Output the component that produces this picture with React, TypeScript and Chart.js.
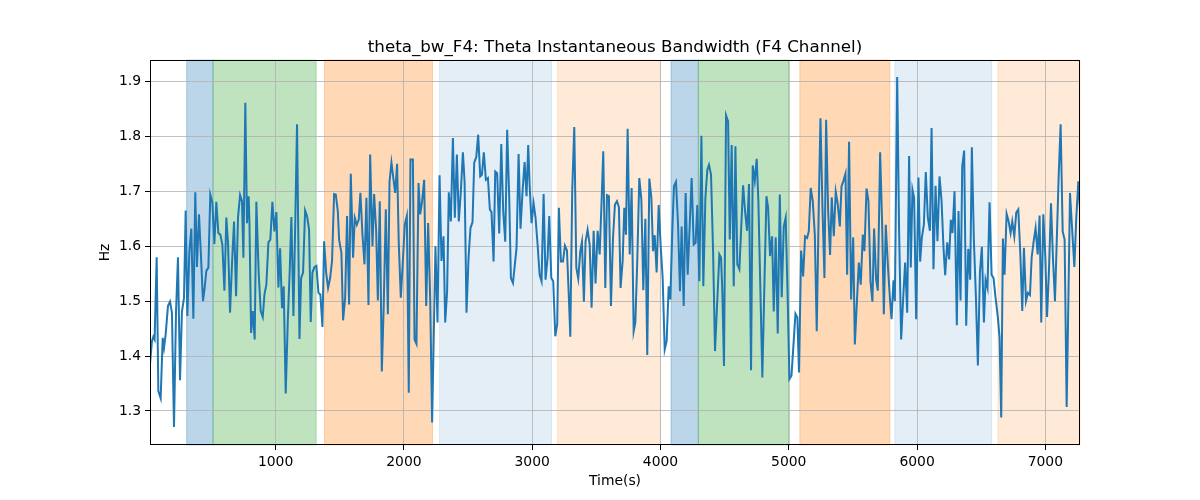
import { Chart, registerables } from "chart.js";
import React, { useEffect, useRef } from "react";

Chart.register(...registerables);

// sample times (s)
const times = [
  21, 36, 47, 57, 73, 86, 104, 120, 130, 143, 161, 177, 192, 208, 224, 239, 255, 270, 286, 299,
  312, 328, 343, 359, 374, 387, 403, 419, 434, 447, 460, 476, 491, 507, 523, 538, 554, 569, 585, 601,
  616, 629, 645, 660, 676, 692, 707, 723, 738, 749,
  764, 777, 790, 796, 809, 822, 837, 850, 868, 884, 900, 913, 928, 944, 959, 975, 991, 1006, 1022, 1035,
  1050, 1063, 1079, 1095, 1110, 1123, 1139, 1154, 1167, 1186, 1199, 1214, 1230, 1245, 1261, 1274, 1287, 1303, 1318, 1334,
  1349, 1365, 1378, 1394, 1409, 1425, 1440, 1456, 1469, 1485,
  1495, 1513, 1526, 1542, 1557, 1573, 1586, 1604, 1617, 1633, 1648, 1661, 1677, 1693, 1708, 1724, 1737, 1755, 1768, 1784,
  1797, 1812, 1828, 1843, 1859, 1875, 1888, 1903, 1919, 1932, 1947, 1960, 1976, 1992, 2007, 2023, 2038, 2051, 2070, 2083,
  2098, 2114, 2127, 2142, 2158, 2174, 2189, 2205, 2220,
  2246, 2262, 2278, 2293, 2309, 2322, 2337, 2350, 2366, 2382, 2397, 2413, 2428, 2444, 2460, 2473, 2488, 2504, 2519, 2535,
  2548, 2564, 2579, 2595, 2608, 2623, 2639, 2655, 2670, 2683, 2699, 2712, 2727, 2743, 2759, 2774, 2790, 2805, 2821, 2834,
  2850, 2865, 2878, 2894, 2909, 2925, 2941, 2956, 2969,
  2980, 2995, 3011, 3026, 3042, 3058, 3073, 3089, 3104, 3120, 3133, 3149, 3164, 3180, 3195, 3208, 3224, 3240, 3255, 3271,
  3286, 3297, 3312, 3328, 3344, 3359, 3375, 3388, 3403, 3416, 3432, 3448, 3463, 3479, 3494, 3510, 3526, 3541, 3554, 3570,
  3583, 3598, 3614, 3630, 3645, 3661, 3676, 3689,
  3705, 3718, 3731, 3744, 3760, 3775, 3791, 3804, 3819, 3835, 3851, 3866, 3882, 3897, 3913, 3929, 3942, 3955, 3970, 3986,
  4001, 4017, 4033, 4048, 4064, 4077, 4092, 4105, 4121, 4137, 4152, 4165, 4181, 4196, 4212, 4228, 4243, 4259, 4274, 4287,
  4303, 4319, 4334, 4350, 4365, 4378, 4394, 4410, 4425,
  4459, 4472, 4482, 4495, 4511, 4527, 4540, 4555, 4571, 4584, 4599, 4615, 4628, 4644, 4659, 4675, 4690, 4706, 4719, 4735,
  4750, 4763, 4779, 4794, 4810, 4826, 4839, 4854, 4870, 4883, 4898, 4914, 4930, 4945, 4961, 4976, 4992, 5005, 5021, 5036,
  5052, 5067, 5080, 5096, 5112, 5127, 5143, 5156, 5171, 5187,
  5203, 5218, 5234, 5247, 5262, 5278, 5291, 5307, 5322, 5335, 5351, 5366, 5382, 5398, 5411, 5426, 5442, 5455, 5470, 5486,
  5502, 5515, 5530, 5546, 5561, 5577, 5590, 5606, 5621, 5637, 5652, 5665, 5681, 5694, 5712, 5728, 5741, 5756, 5772, 5788,
  5801, 5816, 5827, 5845, 5860, 5876, 5892, 5907, 5923, 5938,
  5951, 5964, 5977, 5993, 6011, 6024, 6037, 6053, 6068, 6084, 6100, 6113, 6128, 6144, 6159, 6175, 6191, 6206, 6219, 6235,
  6250, 6263, 6276, 6292, 6310, 6323, 6339, 6352, 6367, 6383, 6399, 6414, 6427, 6443, 6458, 6474, 6490, 6505, 6521, 6534,
  6549, 6565, 6581, 6596, 6612, 6630, 6643, 6656, 6669,
  6682, 6698, 6714, 6729, 6742, 6758, 6773, 6789, 6805, 6820, 6833, 6849, 6864, 6880, 6893, 6909, 6924, 6940, 6955, 6968,
  6984, 7000, 7013, 7028, 7044, 7059, 7075, 7091, 7104, 7119, 7135, 7150, 7166, 7179, 7192, 7208, 7226, 7241, 7257, 7270,
];

// theta instantaneous bandwidth (Hz)
const bandwidth = [
  1.385, 1.427, 1.435, 1.43, 1.58, 1.336, 1.323, 1.433, 1.415, 1.439, 1.491, 1.499, 1.479, 1.271, 1.482, 1.58, 1.356, 1.481, 1.506, 1.665,
  1.473, 1.591, 1.632, 1.468, 1.698, 1.562, 1.658, 1.579, 1.5, 1.524, 1.555, 1.561, 1.694, 1.679, 1.604, 1.681, 1.624, 1.621, 1.603, 1.519,
  1.652, 1.606, 1.479, 1.567, 1.645, 1.509, 1.652, 1.693, 1.682, 1.579,
  1.861, 1.642, 1.691, 1.645, 1.442, 1.482, 1.43, 1.681, 1.552, 1.482, 1.471, 1.512, 1.53, 1.607, 1.612, 1.681, 1.627, 1.662, 1.525, 1.596,
  1.487, 1.527, 1.332, 1.464, 1.555, 1.653, 1.473, 1.652, 1.822, 1.431, 1.542, 1.552, 1.665, 1.655, 1.63, 1.462, 1.552, 1.562, 1.564, 1.515,
  1.512, 1.453, 1.609, 1.552, 1.524, 1.542, 1.573, 1.695, 1.694, 1.664,
  1.612, 1.588, 1.465, 1.506, 1.655, 1.494, 1.732, 1.579, 1.652, 1.639, 1.648, 1.697, 1.621, 1.567, 1.688, 1.493, 1.767, 1.6, 1.695, 1.627,
  1.501, 1.682, 1.372, 1.494, 1.667, 1.476, 1.717, 1.752, 1.721, 1.697, 1.75, 1.606, 1.506, 1.573, 1.639, 1.655, 1.333, 1.758, 1.758, 1.43,
  1.422, 1.715, 1.658, 1.682, 1.721, 1.491, 1.642, 1.503, 1.279,
  1.6, 1.461, 1.729, 1.573, 1.618, 1.461, 1.518, 1.698, 1.645, 1.797, 1.652, 1.767, 1.645, 1.7, 1.771, 1.718, 1.479, 1.579, 1.633, 1.644,
  1.752, 1.762, 1.803, 1.727, 1.73, 1.771, 1.721, 1.724, 1.667, 1.662, 1.572, 1.736, 1.733, 1.623, 1.786, 1.664, 1.608, 1.812, 1.688, 1.542,
  1.533, 1.567, 1.597, 1.768, 1.632, 1.7, 1.753, 1.691, 1.784,
  1.712, 1.642, 1.678, 1.652, 1.603, 1.548, 1.536, 1.695, 1.539, 1.579, 1.655, 1.542, 1.536, 1.436, 1.458, 1.67, 1.572, 1.572, 1.601, 1.592,
  1.506, 1.435, 1.7, 1.817, 1.561, 1.541, 1.591, 1.608, 1.499, 1.609, 1.63, 1.603, 1.488, 1.628, 1.532, 1.628, 1.585, 1.682, 1.773, 1.524,
  1.693, 1.691, 1.491, 1.615, 1.676, 1.682, 1.671, 1.524,
  1.573, 1.67, 1.621, 1.814, 1.585, 1.706, 1.445, 1.461, 1.573, 1.724, 1.685, 1.52, 1.65, 1.402, 1.723, 1.688, 1.591, 1.62, 1.552, 1.675,
  1.603, 1.542, 1.412, 1.427, 1.527, 1.503, 1.627, 1.709, 1.717, 1.639, 1.518, 1.636, 1.491, 1.697, 1.548, 1.639, 1.724, 1.603, 1.606, 1.675,
  1.536, 1.801, 1.527, 1.688, 1.739, 1.748, 1.73, 1.591, 1.409,
  1.585, 1.579, 1.518, 1.382, 1.838, 1.827, 1.612, 1.784, 1.527, 1.782, 1.567, 1.558, 1.627, 1.711, 1.664, 1.628, 1.713, 1.374, 1.747, 1.719,
  1.759, 1.682, 1.518, 1.361, 1.53, 1.691, 1.67, 1.582, 1.618, 1.481, 1.616, 1.441, 1.694, 1.507, 1.636, 1.652, 1.5, 1.358, 1.364, 1.418,
  1.477, 1.47, 1.37, 1.592, 1.545, 1.618, 1.615, 1.627, 1.706, 1.682,
  1.621, 1.445, 1.676, 1.833, 1.676, 1.542, 1.83, 1.664, 1.584, 1.689, 1.618, 1.699, 1.676, 1.636, 1.709, 1.719, 1.732, 1.548, 1.79, 1.503,
  1.616, 1.421, 1.494, 1.57, 1.53, 1.621, 1.591, 1.705, 1.682, 1.536, 1.499, 1.632, 1.539, 1.519, 1.771, 1.639, 1.476, 1.639, 1.567, 1.506,
  1.467, 1.538, 1.5, 1.908, 1.627, 1.43, 1.506, 1.57, 1.479, 1.764,
  1.561, 1.703, 1.688, 1.467, 1.725, 1.572, 1.615, 1.639, 1.735, 1.652, 1.628, 1.815, 1.558, 1.71, 1.609, 1.727, 1.682, 1.597, 1.547, 1.607,
  1.576, 1.648, 1.624, 1.7, 1.456, 1.664, 1.501, 1.745, 1.774, 1.455, 1.595, 1.539, 1.78, 1.609, 1.512, 1.383, 1.552, 1.599, 1.461, 1.539,
  1.524, 1.68, 1.548, 1.542, 1.506, 1.47, 1.433, 1.288, 1.614,
  1.548, 1.659, 1.645, 1.624, 1.645, 1.618, 1.661, 1.667, 1.585, 1.482, 1.597, 1.5, 1.515, 1.511, 1.579, 1.609, 1.633, 1.585, 1.656, 1.461,
  1.658, 1.579, 1.471, 1.555, 1.678, 1.579, 1.5, 1.627, 1.73, 1.822, 1.627, 1.612, 1.307, 1.494, 1.697, 1.633, 1.562, 1.652, 1.718, 1.667,
];

// shaded segments behind the trace
const spanStart = [307, 512, 1381, 2278, 3198, 4082, 4295, 5086, 5827, 6630];
const spanEnd = [512, 1316, 2223, 3151, 3999, 4295, 5005, 5788, 6581, 7270];
const spanColor = [
  "rgba(31,119,180,0.3)",
  "rgba(44,160,44,0.3)",
  "rgba(255,127,14,0.3)",
  "rgba(31,119,180,0.12)",
  "rgba(255,127,14,0.16)",
  "rgba(31,119,180,0.3)",
  "rgba(44,160,44,0.3)",
  "rgba(255,127,14,0.3)",
  "rgba(31,119,180,0.12)",
  "rgba(255,127,14,0.16)",
];

const xTicks = [1000, 2000, 3000, 4000, 5000, 6000, 7000];
const yTicks = [1.3, 1.4, 1.5, 1.6, 1.7, 1.8, 1.9];

const FONT = "'DejaVu Sans', sans-serif";

const spansPlugin = {
  id: "spans",
  beforeDraw(chart: any) {
    const { ctx, chartArea } = chart;
    const x = chart.scales.x;
    ctx.save();
    spanStart.forEach((s, i) => {
      const x1 = Math.max(chartArea.left, x.getPixelForValue(s));
      const x2 = Math.min(chartArea.right, x.getPixelForValue(spanEnd[i]));
      ctx.fillStyle = spanColor[i];
      ctx.fillRect(x1, chartArea.top, x2 - x1, chartArea.bottom - chartArea.top);
      ctx.strokeStyle = spanColor[i];
      ctx.lineWidth = 1;
      ctx.strokeRect(x1, chartArea.top, x2 - x1, chartArea.bottom - chartArea.top);
    });
    ctx.restore();
  },
};

const framePlugin = {
  id: "frame",
  afterDatasetsDraw(chart: any) {
    const { ctx, chartArea } = chart;
    ctx.save();
    ctx.strokeStyle = "#000";
    ctx.lineWidth = 1;
    ctx.strokeRect(
      chartArea.left + 0.5,
      chartArea.top + 0.5,
      chartArea.right - chartArea.left - 1,
      chartArea.bottom - chartArea.top - 1
    );
    const midX = (chartArea.left + chartArea.right) / 2;
    ctx.fillStyle = "#000";
    ctx.textAlign = "center";
    ctx.font = `16.7px ${FONT}`;
    ctx.textBaseline = "alphabetic";
    ctx.fillText("theta_bw_F4: Theta Instantaneous Bandwidth (F4 Channel)", midX, 52);
    ctx.font = `13.9px ${FONT}`;
    ctx.textBaseline = "middle";
    ctx.fillText("Time(s)", midX, 481);
    ctx.translate(105, (chartArea.top + chartArea.bottom) / 2);
    ctx.rotate(-Math.PI / 2);
    ctx.fillText("Hz", 0, 0);
    ctx.restore();
  },
};

const App: React.FC = () => {
  const canvasRef = useRef<HTMLCanvasElement | null>(null);
  const chartRef = useRef<Chart | null>(null);

  useEffect(() => {
    if (!canvasRef.current) return;
    if (chartRef.current) chartRef.current.destroy();

    const points = times.map((t, i) => ({ x: t, y: bandwidth[i] }));

    chartRef.current = new Chart(canvasRef.current, {
      type: "line",
      data: {
        datasets: [
          {
            data: points,
            borderColor: "#1f77b4",
            borderWidth: 2,
            pointRadius: 0,
            tension: 0,
            fill: false,
          },
        ],
      },
      options: {
        animation: false,
        responsive: false,
        events: [],
        layout: { padding: { left: 0, right: 120, top: 60, bottom: 0 } },
        plugins: {
          legend: { display: false },
          tooltip: { enabled: false },
        },
        scales: {
          x: {
            type: "linear",
            min: 21,
            max: 7270,
            afterFit: (s: any) => {
              s.height = 55;
            },
            afterBuildTicks: (s: any) => {
              s.ticks = xTicks.map((v) => ({ value: v }));
            },
            ticks: {
              callback: (v: any) => String(v),
              color: "#000",
              font: { family: FONT, size: 13.9 },
              padding: 4,
              maxRotation: 0,
              autoSkip: false,
            },
            grid: {
              color: "#b0b0b0",
              lineWidth: 0.8,
              tickColor: "#000",
              tickLength: 5,
              tickWidth: 1,
            },
            border: { display: false },
          },
          y: {
            type: "linear",
            min: 1.238,
            max: 1.939,
            afterFit: (s: any) => {
              s.width = 150;
            },
            afterBuildTicks: (s: any) => {
              s.ticks = yTicks.map((v) => ({ value: v }));
            },
            ticks: {
              callback: (v: any) => Number(v).toFixed(1),
              color: "#000",
              font: { family: FONT, size: 13.9 },
              padding: 4,
              autoSkip: false,
            },
            grid: {
              color: "#b0b0b0",
              lineWidth: 0.8,
              tickColor: "#000",
              tickLength: 5,
              tickWidth: 1,
            },
            border: { display: false },
          },
        },
      },
      plugins: [spansPlugin, framePlugin],
    });

    return () => {
      if (chartRef.current) {
        chartRef.current.destroy();
        chartRef.current = null;
      }
    };
  }, []);

  return (
    <div style={{ position: "absolute", left: 0, top: 0, width: 1200, height: 500, background: "#fff" }}>
      <canvas ref={canvasRef} width={1200} height={500}></canvas>
    </div>
  );
};

export default App;
